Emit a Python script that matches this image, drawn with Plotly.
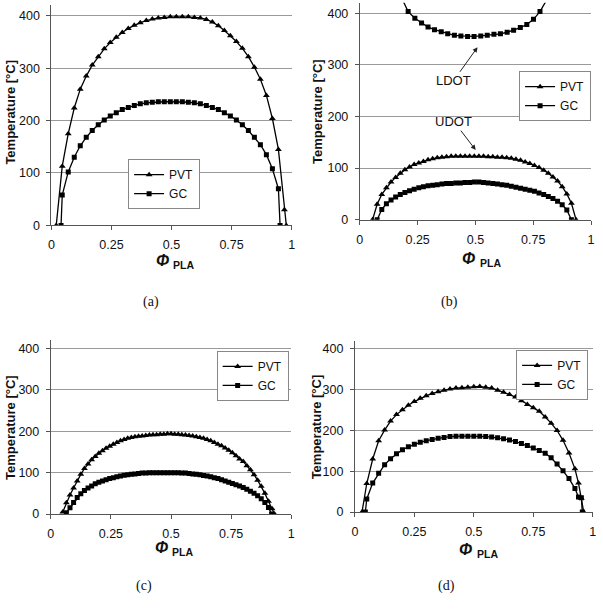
import plotly.graph_objects as go

# ---------------- data ----------------
# (a)
a_pvt_x = [0.02, 0.045, 0.07, 0.095, 0.12, 0.145, 0.17, 0.195, 0.22, 0.245, 0.27, 0.295, 0.32, 0.345, 0.37,
           0.395, 0.42, 0.445, 0.47, 0.495, 0.52, 0.545, 0.57, 0.595, 0.62, 0.645, 0.67, 0.695, 0.72, 0.745,
           0.77, 0.795, 0.82, 0.845, 0.87, 0.895, 0.92, 0.945, 0.97, 0.978]
a_pvt_t = [0, 113, 175, 224, 260, 285, 306, 322, 337, 349, 359, 368, 376, 382, 387, 391, 394, 396, 397, 398,
           398, 398, 398, 397, 396, 393, 388, 381, 372, 362, 351, 338, 322, 302, 279, 248, 204, 145, 30, 0]
a_gc_x = [0.04, 0.045, 0.07, 0.095, 0.12, 0.145, 0.17, 0.195, 0.22, 0.245, 0.27, 0.295, 0.32, 0.345, 0.37,
          0.395, 0.42, 0.445, 0.47, 0.495, 0.52, 0.545, 0.57, 0.595, 0.62, 0.645, 0.67, 0.695, 0.72, 0.745,
          0.77, 0.795, 0.82, 0.845, 0.87, 0.895, 0.92, 0.945, 0.952]
a_gc_t = [0, 58, 102, 130, 152, 168, 181, 192, 201, 209, 215, 221, 225, 229, 232, 234, 235, 236, 236, 236,
          236, 236, 235, 234, 232, 229, 225, 221, 215, 209, 201, 192, 181, 168, 154, 135, 108, 70, 0]

# (b)
b_pvt_x = [0.055, 0.075, 0.095, 0.115, 0.135, 0.155, 0.175, 0.195, 0.215, 0.235, 0.255, 0.275, 0.295, 0.315,
           0.335, 0.355, 0.375, 0.395, 0.415, 0.435, 0.455, 0.475, 0.495, 0.515, 0.535, 0.555, 0.575, 0.595,
           0.615, 0.635, 0.655, 0.675, 0.695, 0.715, 0.735, 0.755, 0.775, 0.795, 0.815, 0.835, 0.855, 0.875,
           0.895, 0.915, 0.935]
b_pvt_t = [0, 30, 49, 62, 73, 82, 90, 97, 102, 107, 110, 113, 116, 118, 120, 121, 122, 123, 123, 123,
           123, 123, 123, 123, 123, 122, 122, 121, 121, 120, 119, 117, 115, 112, 109, 105, 101, 96, 90, 83,
           75, 64, 50, 32, 0]
b_gc_x = [0.075, 0.095, 0.115, 0.135, 0.155, 0.175, 0.195, 0.215, 0.235, 0.255, 0.275, 0.295, 0.315, 0.335,
          0.355, 0.375, 0.395, 0.415, 0.435, 0.455, 0.475, 0.495, 0.515, 0.535, 0.555, 0.575, 0.595, 0.615,
          0.635, 0.655, 0.675, 0.695, 0.715, 0.735, 0.755, 0.775, 0.795, 0.815, 0.835, 0.855, 0.875, 0.895,
          0.915]
b_gc_t = [0, 20, 31, 38, 44, 49, 53, 56, 59, 62, 64, 66, 67, 68, 69, 70, 70, 71, 71, 72, 72, 73, 73, 72,
          71, 70, 69, 68, 67, 65, 63, 61, 59, 57, 55, 52, 49, 45, 41, 36, 29, 19, 0]
b_ldot_x = [0.175, 0.209, 0.238, 0.267, 0.295, 0.323, 0.352, 0.38, 0.409, 0.437, 0.466, 0.494, 0.523,
            0.551, 0.58, 0.608, 0.637, 0.665, 0.694, 0.722, 0.751, 0.779, 0.82]
b_ldot_t = [435, 403, 390, 381, 373, 368, 364, 360, 357, 356, 355, 355, 356, 357, 359, 360, 363, 367,
            372, 378, 388, 403, 435]

# (c)
c_pvt_x = [0.05, 0.065, 0.08, 0.095, 0.11, 0.125, 0.14, 0.155, 0.17, 0.185, 0.2, 0.215, 0.23, 0.245, 0.26,
           0.275, 0.29, 0.305, 0.32, 0.335, 0.35, 0.365, 0.38, 0.395, 0.41, 0.425, 0.44, 0.455, 0.47, 0.485,
           0.5, 0.515, 0.53, 0.545, 0.56, 0.575, 0.59, 0.605, 0.62, 0.635, 0.65, 0.665, 0.68, 0.695, 0.71,
           0.725, 0.74, 0.755, 0.77, 0.785, 0.8, 0.815, 0.83, 0.845, 0.86, 0.875, 0.89, 0.905, 0.92, 0.93]
c_pvt_t = [5, 27, 46, 63, 80, 96, 110, 121, 131, 139, 147, 153, 159, 164, 169, 173, 177, 180, 183, 185,
           187, 188, 189, 190, 191, 192, 192, 193, 193, 194, 194, 193, 193, 192, 191, 190, 189, 187, 185, 183,
           180, 177, 173, 169, 165, 160, 154, 148, 141, 133, 127, 117, 107, 95, 82, 67, 50, 31, 13, 0]
c_gc_x = [0.065, 0.08, 0.095, 0.11, 0.125, 0.14, 0.155, 0.17, 0.185, 0.2, 0.215, 0.23, 0.245, 0.26, 0.275,
          0.29, 0.305, 0.32, 0.335, 0.35, 0.365, 0.38, 0.395, 0.41, 0.425, 0.44, 0.455, 0.47, 0.485, 0.5,
          0.515, 0.53, 0.545, 0.56, 0.575, 0.59, 0.605, 0.62, 0.635, 0.65, 0.665, 0.68, 0.695, 0.71, 0.725,
          0.74, 0.755, 0.77, 0.785, 0.8, 0.815, 0.83, 0.845, 0.86, 0.875, 0.89, 0.905, 0.918]
c_gc_t = [3, 15, 28, 40, 49, 57, 63, 68, 73, 77, 80, 83, 86, 88, 90, 92, 94, 95, 96, 97,
          98, 99, 99, 100, 100, 100, 100, 100, 100, 100, 100, 100, 99, 99, 98, 97, 96, 95, 93, 92,
          90, 88, 86, 83, 80, 77, 74, 71, 68, 64, 60, 55, 50, 44, 37, 28, 16, 0]

# (d)
d_pvt_x = [0.03, 0.05, 0.075, 0.1, 0.125, 0.15, 0.175, 0.2, 0.225, 0.25, 0.275, 0.3, 0.325, 0.35, 0.375,
           0.4, 0.425, 0.45, 0.475, 0.5, 0.525, 0.55, 0.575, 0.6, 0.625, 0.65, 0.675, 0.7, 0.725, 0.75,
           0.775, 0.8, 0.825, 0.85, 0.875, 0.9, 0.925, 0.94, 0.952, 0.962]
d_pvt_t = [0, 70, 130, 175, 201, 223, 239, 251, 262, 271, 279, 285, 291, 295, 299, 302, 304, 305, 306, 307,
           308, 306, 304, 299, 294, 288, 282, 273, 264, 256, 247, 233, 218, 200, 176, 145, 106, 71, 34, 0]
d_gc_x = [0.044, 0.05, 0.075, 0.1, 0.125, 0.15, 0.175, 0.2, 0.225, 0.25, 0.275, 0.3, 0.325, 0.35, 0.375,
          0.4, 0.425, 0.45, 0.475, 0.5, 0.525, 0.55, 0.575, 0.6, 0.625, 0.65, 0.675, 0.7, 0.725, 0.75,
          0.775, 0.8, 0.825, 0.85, 0.875, 0.9, 0.925, 0.94, 0.952, 0.956]
d_gc_t = [0, 32, 71, 95, 116, 131, 143, 153, 160, 166, 171, 175, 178, 181, 183, 185, 186, 186, 186, 186,
          186, 185, 184, 182, 180, 177, 173, 168, 163, 157, 151, 144, 133, 118, 101, 82, 58, 37, 35, 0]

x_ticks = [0, 0.25, 0.5, 0.75, 1]
x_ticktext = ["0", "0.25", "0.5", "0.75", "1"]
y_ticks = [0, 100, 200, 300, 400]
y_ticktext = ["0", "100", "200", "300", "400"]
series_names = ["PVT", "GC"]
captions = ["(a)", "(b)", "(c)", "(d)"]
y_title = "Temperature [°C]"
x_title_main = "Φ"
x_title_sub = "PLA"

# ---------------- layout helpers ----------------
W, H = 603, 610
YMAX = 420
FONT = "Liberation Sans, Arial, sans-serif"

# pixel geometry of each panel: x0, x1 (x=0 and x=1), y0 (T=0), y400 (T=400)
geom = [
    dict(x0=49, x1=292, y0=228, y400=16),
    dict(x0=361, x1=595, y0=222.3, y400=13.3),
    dict(x0=48.3, x1=291.7, y0=520, y400=352.7),
    dict(x0=356, x1=596.7, y0=518, y400=353),
]
legend_pos = [
    dict(x=163 / W, y=1 - 161 / H, xanchor="center"),
    dict(x=595 / W, y=1 - 72 / H, xanchor="right"),
    dict(x=289 / W, y=1 - 355 / H, xanchor="right"),
    dict(x=592 / W, y=1 - 354 / H, xanchor="right"),
]
caption_pos = [(150, 305), (452, 305), (143, 593), (449, 593)]
ytitle_pos = [(8, 113), (318, 113), (7, 432), (317, 432)]
xtitle_pos = [(171, 265), (481, 263), (170, 555), (478, 557)]

data_sets = [
    (a_pvt_x, a_pvt_t, a_gc_x, a_gc_t),
    (b_pvt_x, b_pvt_t, b_gc_x, b_gc_t),
    (c_pvt_x, c_pvt_t, c_gc_x, c_gc_t),
    (d_pvt_x, d_pvt_t, d_gc_x, d_gc_t),
]

fig = go.Figure()
layout = dict(
    width=W, height=H, margin=dict(l=0, r=0, t=0, b=0),
    paper_bgcolor="white", plot_bgcolor="white",
    font=dict(family=FONT, size=12, color="#111"),
    annotations=[],
)

for i, g in enumerate(geom):
    n = i + 1
    sfx = "" if n == 1 else str(n)
    top_px = g["y0"] - (g["y0"] - g["y400"]) * YMAX / 400.0
    layout["xaxis" + sfx] = dict(
        domain=[g["x0"] / W, g["x1"] / W], range=[0, 1], anchor="y" + sfx,
        tickvals=x_ticks, ticktext=x_ticktext, showgrid=False, zeroline=False,
        showline=True, linecolor="#555", linewidth=1, ticks="outside", ticklen=4,
        tickcolor="#555", tickfont=dict(family=FONT, size=12.5, color="#111"),
        ticklabelstandoff=4, fixedrange=True,
    )
    layout["yaxis" + sfx] = dict(
        domain=[1 - g["y0"] / H, 1 - top_px / H], range=[0, YMAX], anchor="x" + sfx,
        tickvals=y_ticks, ticktext=y_ticktext, showgrid=True, gridcolor="#9a9a9a", gridwidth=1,
        zeroline=False, showline=True, linecolor="#555", linewidth=1, ticks="outside",
        ticklen=4, tickcolor="#555", tickfont=dict(family=FONT, size=12.5, color="#111"),
        ticklabelstandoff=4, fixedrange=True,
    )
    lg = "legend" if n == 1 else "legend" + str(n)
    lp = legend_pos[i]
    layout[lg] = dict(
        x=lp["x"], y=lp["y"], xanchor=lp["xanchor"], yanchor="top",
        bgcolor="white", bordercolor="#888", borderwidth=1,
        font=dict(family=FONT, size=12, color="#111"), itemwidth=30,
        tracegroupgap=0,
    )
    px, pt, gx, gt = data_sets[i]
    fig.add_trace(go.Scatter(
        x=px, y=pt, mode="lines+markers", name=series_names[0], legend=lg,
        xaxis="x" + sfx, yaxis="y" + sfx,
        line=dict(color="black", width=1.3),
        marker=dict(symbol="triangle-up", size=6, color="black"),
    ))
    fig.add_trace(go.Scatter(
        x=gx, y=gt, mode="lines+markers", name=series_names[1], legend=lg,
        xaxis="x" + sfx, yaxis="y" + sfx,
        line=dict(color="black", width=1.3),
        marker=dict(symbol="square", size=5, color="black"),
    ))
    if n == 2:
        fig.add_trace(go.Scatter(
            x=b_ldot_x, y=b_ldot_t, mode="lines+markers", showlegend=False,
            xaxis="x2", yaxis="y2",
            line=dict(color="black", width=1.3),
            marker=dict(symbol="square", size=5, color="black"),
        ))
    cx, cy = caption_pos[i]
    layout["annotations"].append(dict(
        text=captions[i], x=cx / W, y=1 - cy / H, xref="paper", yref="paper",
        showarrow=False, xanchor="center", yanchor="middle",
        font=dict(family="Liberation Serif, DejaVu Serif, serif", size=14, color="#111"),
    ))
    tx, ty = ytitle_pos[i]
    layout["annotations"].append(dict(
        text=y_title, x=tx / W, y=1 - ty / H, xref="paper", yref="paper",
        showarrow=False, xanchor="center", yanchor="middle", textangle=-90,
        font=dict(family=FONT, size=13, color="#111", weight="bold"),
    ))
    xx, xy = xtitle_pos[i]
    layout["annotations"].append(dict(
        text=x_title_main, x=(xx - 10) / W, y=1 - (xy - 1) / H,
        xref="paper", yref="paper", showarrow=False, xanchor="center", yanchor="middle",
        font=dict(family=FONT, size=16, color="#111", weight="bold", style="italic"),
    ))
    layout["annotations"].append(dict(
        text=x_title_sub, x=(xx + 12) / W, y=1 - (xy + 3) / H,
        xref="paper", yref="paper", showarrow=False, xanchor="center", yanchor="middle",
        font=dict(family=FONT, size=10.5, color="#111", weight="bold"),
    ))

# LDOT / UDOT labels with arrows in panel (b)
layout["annotations"] += [
    dict(text="LDOT", x=0.509, y=334, ax=0.405, ay=269, xref="x2", yref="y2",
         axref="x2", ayref="y2", showarrow=True, arrowhead=2, arrowsize=1,
         arrowwidth=1, arrowcolor="#222", standoff=0,
         font=dict(family=FONT, size=13, color="#111")),
    dict(text="UDOT", x=0.501, y=135, ax=0.407, ay=190, xref="x2", yref="y2",
         axref="x2", ayref="y2", showarrow=True, arrowhead=2, arrowsize=1,
         arrowwidth=1, arrowcolor="#222", standoff=0,
         font=dict(family=FONT, size=13, color="#111")),
]

fig.update_layout(**layout)
fig.write_html("out.html")
